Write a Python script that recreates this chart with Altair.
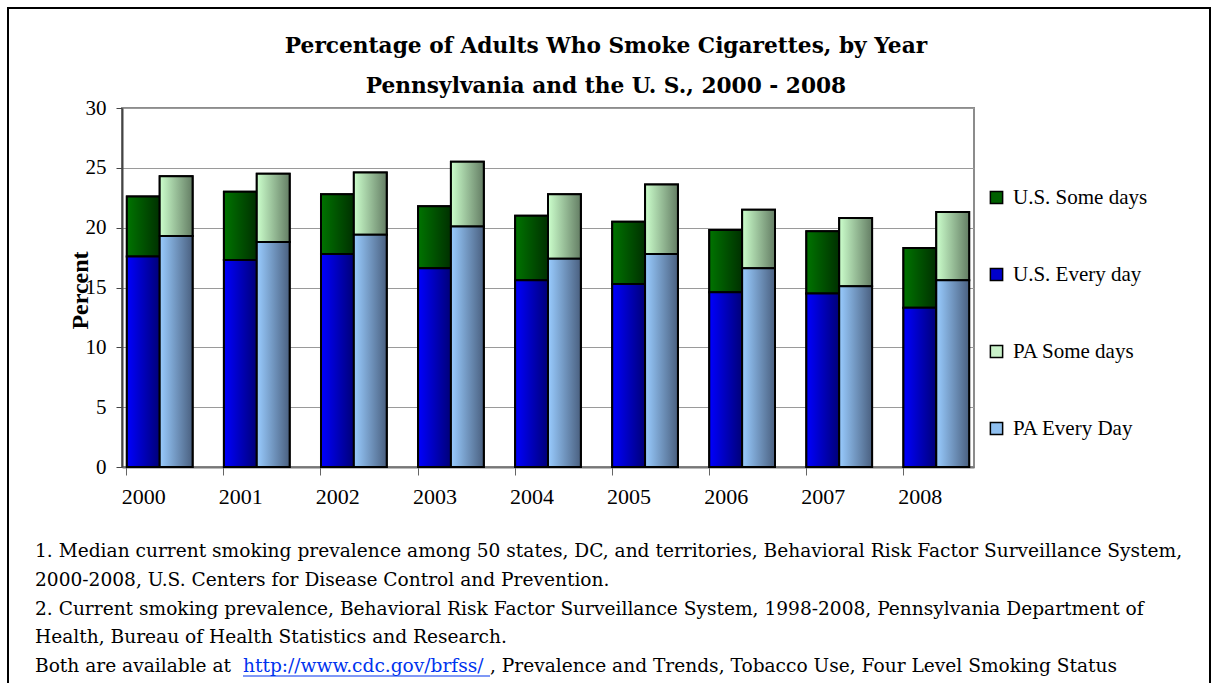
import altair as alt
import pandas as pd

# ---- data ----
years = ["2000", "2001", "2002", "2003", "2004", "2005", "2006", "2007", "2008"]
us_every = [17.6, 17.3, 17.8, 16.6, 15.6, 15.3, 14.6, 14.5, 13.3]
us_some = [5.0, 5.7, 5.0, 5.2, 5.4, 5.2, 5.2, 5.2, 5.0]
pa_every = [19.3, 18.8, 19.4, 20.1, 17.4, 17.8, 16.6, 15.1, 15.6]
pa_some = [5.0, 5.7, 5.2, 5.4, 5.4, 5.8, 4.9, 5.7, 5.7]

series_names = ["U.S. Some days", "U.S. Every day", "PA Some days", "PA Every Day"]
legend_colors = ["#006000", "#0000cc", "#c8f0c8", "#8fbfef"]

title_lines = ["Percentage of Adults Who Smoke Cigarettes, by Year",
               "Pennsylvania and the U. S., 2000 - 2008"]
notes = [
    "1.  Median current smoking prevalence among 50 states, DC, and territories, Behavioral Risk Factor Surveillance System,",
    "2000-2008, U.S. Centers for Disease Control and Prevention.",
    "2.  Current smoking prevalence, Behavioral Risk Factor Surveillance System, 1998-2008, Pennsylvania Department of",
    "Health, Bureau of Health Statistics and Research.",
]
last_pre = "Both are available at "
last_link = "http://www.cdc.gov/brfss/"
last_post = " , Prevalence and Trends, Tobacco Use, Four Level Smoking Status"

rows = []
for i, yr in enumerate(years):
    rows.append(dict(year=yr, group="US", series="U.S. Every day", start=0, end=us_every[i]))
    rows.append(dict(year=yr, group="US", series="U.S. Some days", start=us_every[i], end=us_every[i] + us_some[i]))
    rows.append(dict(year=yr, group="PA", series="PA Every Day", start=0, end=pa_every[i]))
    rows.append(dict(year=yr, group="PA", series="PA Some days", start=pa_every[i], end=pa_every[i] + pa_some[i]))
df = pd.DataFrame(rows)

gradients = {
    "U.S. Some days": ("#007400", "#003000"),
    "U.S. Every day": ("#0000ff", "#000078"),
    "PA Some days": ("#ccffcc", "#647d64"),
    "PA Every Day": ("#99ccff", "#4a6080"),
}

SERIF = "Liberation Serif"
NOTE_FONT = "DejaVu Serif"
NOTE_SIZE = 18.6

x_enc = alt.X("year:N", title=None,
              scale=alt.Scale(paddingInner=0.323, paddingOuter=0.05),
              axis=alt.Axis(bandPosition=0, labelAngle=0, labelOffset=-16, labelFont=SERIF,
                            labelFontSize=22, labelColor="black", labelPadding=11,
                            tickSize=8, tickColor="#666", domainColor="#777", domainWidth=2))
xo_enc = alt.XOffset("group:N", sort=["US", "PA"], scale=alt.Scale(paddingInner=0, paddingOuter=0))
y_enc = alt.Y("start:Q", scale=alt.Scale(domain=[0, 30]),
              axis=alt.Axis(values=[0, 5, 10, 15, 20, 25, 30], title="Percent",
                            titleFont=SERIF, titleFontSize=24, titleFontWeight="bold",
                            titleColor="black", titleX=-42, titleY=182, titleAngle=270,
                            titleAlign="center", titleBaseline="middle",
                            labelFont=SERIF, labelFontSize=21, labelColor="black",
                            labelPadding=10, tickSize=6, tickColor="#444",
                            domainColor="#444", domainWidth=2,
                            grid=True, gridColor="#9a9a9a", gridWidth=1))

base = alt.Chart(df)

legend_layer = base.mark_bar(stroke="black", strokeWidth=2).encode(
    x=x_enc, xOffset=xo_enc, y=y_enc, y2="end:Q",
    color=alt.Color("series:N", scale=alt.Scale(domain=series_names, range=legend_colors),
                    legend=alt.Legend(title=None, orient="none", legendX=864, legendY=79,
                                      symbolType="square", symbolSize=150,
                                      symbolStrokeColor="black", symbolStrokeWidth=1.5,
                                      labelFont=SERIF, labelFontSize=21, labelColor="black",
                                      labelOffset=6, rowPadding=55)),
)

grad_layers = []
for name in series_names:
    c0, c1 = gradients[name]
    grad = alt.LinearGradient(gradient="linear",
                              stops=[alt.GradientStop(color=c0, offset=0),
                                     alt.GradientStop(color=c1, offset=1)],
                              x1=0, x2=1, y1=0, y2=0)
    grad_layers.append(
        base.transform_filter(alt.datum.series == name)
        .mark_bar(fill=grad, stroke="black", strokeWidth=2)
        .encode(x=x_enc, xOffset=xo_enc, y=y_enc, y2="end:Q")
    )

one = pd.DataFrame({"k": [0]})

title1 = alt.Chart(one).mark_text(
    text=title_lines[0], align="center", baseline="middle", font="DejaVu Serif",
    fontSize=21.7, fontWeight="bold", color="black"
).encode(x=alt.value(484), y=alt.value(-62))
title2 = alt.Chart(one).mark_text(
    text=title_lines[1], align="center", baseline="middle", font="DejaVu Serif",
    fontSize=21.7, fontWeight="bold", color="black"
).encode(x=alt.value(484), y=alt.value(-22))

notes_layer = alt.Chart(one).mark_text(
    text=notes, align="left", baseline="alphabetic", font=NOTE_FONT, fontSize=NOTE_SIZE,
    lineHeight=28.75, color="black"
).encode(x=alt.value(-87), y=alt.value(449))

pre_layer = alt.Chart(one).mark_text(
    text=last_pre, align="left", baseline="alphabetic", font=NOTE_FONT, fontSize=NOTE_SIZE, color="black"
).encode(x=alt.value(-87), y=alt.value(564))
link_layer = alt.Chart(one).mark_text(
    text=last_link, align="left", baseline="alphabetic", font=NOTE_FONT, fontSize=NOTE_SIZE, color="#0033ee"
).encode(x=alt.value(121), y=alt.value(564))
underline = alt.Chart(one).mark_rule(color="#0033ee", strokeWidth=1.2).encode(
    x=alt.value(121), x2=alt.value(368), y=alt.value(568))
post_layer = alt.Chart(one).mark_text(
    text=last_post, align="left", baseline="alphabetic", font=NOTE_FONT, fontSize=NOTE_SIZE, color="black"
).encode(x=alt.value(368), y=alt.value(564))

frame = alt.Chart(one).mark_rect(fill=None, stroke="black", strokeWidth=2).encode(
    x=alt.value(-114), x2=alt.value(1088), y=alt.value(-100), y2=alt.value(700))

chart = alt.layer(
    legend_layer, *grad_layers, title1, title2, notes_layer, pre_layer, link_layer,
    underline, post_layer, frame
).properties(
    width=852, height=359,
    autosize=alt.AutoSizeParams(type="none"),
    padding={"left": 122, "top": 108, "right": 239, "bottom": 216},
).configure_view(stroke="#8c8c8c", strokeWidth=2)

chart.save("out.html", embed_options={"renderer": "svg", "actions": False})
